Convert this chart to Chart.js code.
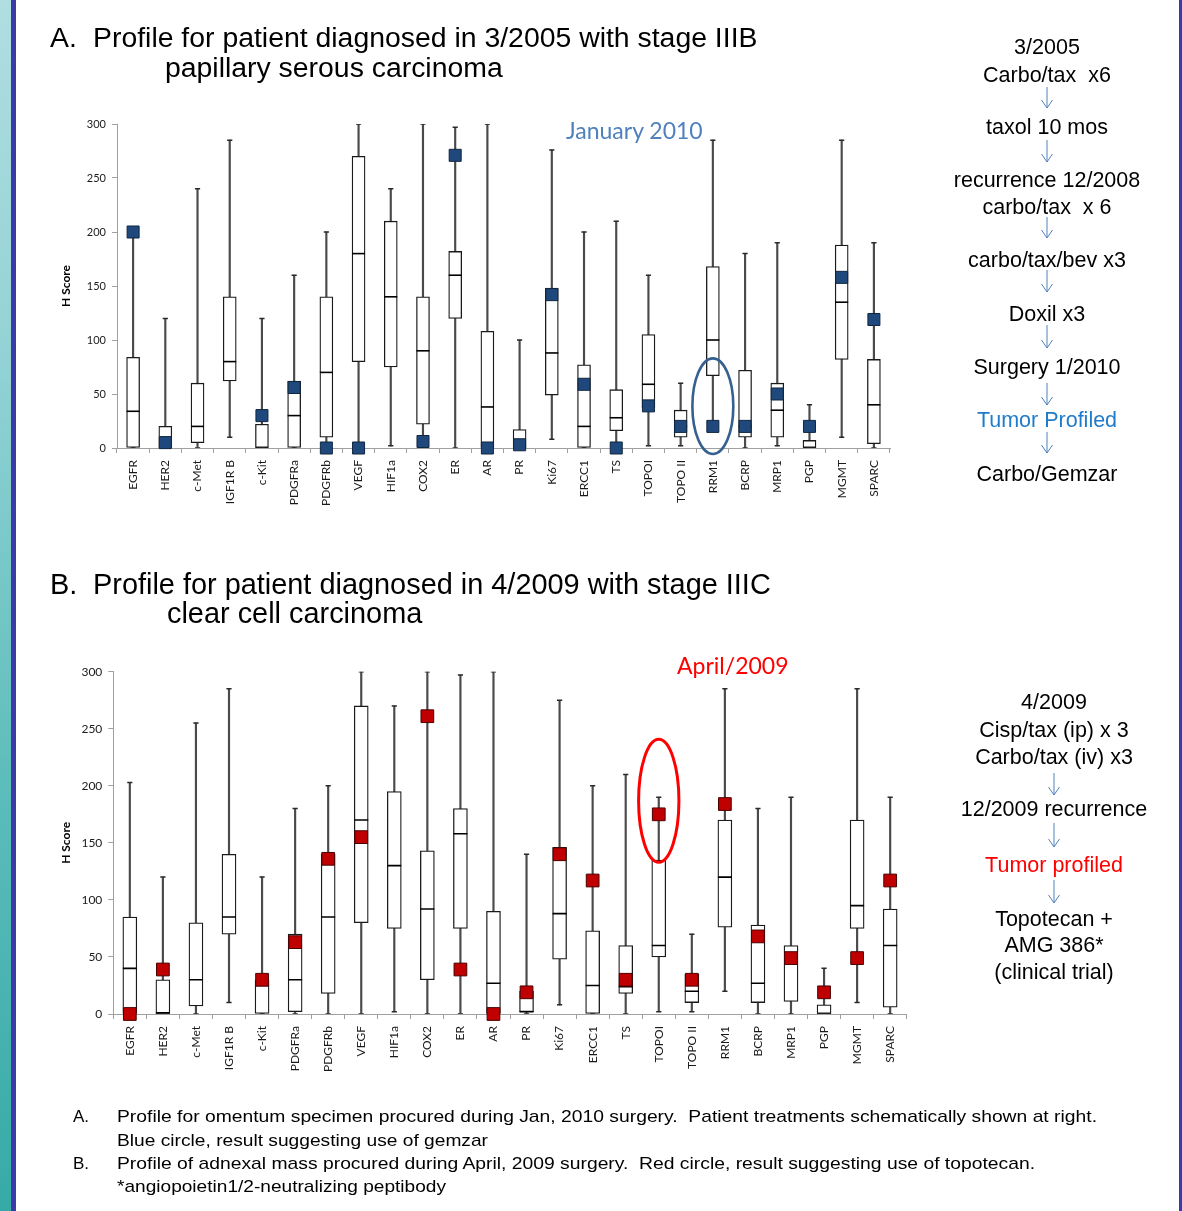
<!DOCTYPE html>
<html>
<head>
<meta charset="utf-8">
<title>Tumor biomarker profiles</title>
<script src="https://cdn.jsdelivr.net/npm/chart.js@4.4.1/dist/chart.umd.min.js"></script>
<style>
  html, body { margin: 0; padding: 0; background: #fff; }
  #page { position: relative; width: 1182px; height: 1211px; overflow: hidden; background: #fff;
          font-family: "Liberation Sans", Arial, sans-serif; color: #000; }
  .strip { position: absolute; left: 0; top: 0; width: 11px; height: 1211px;
           background: linear-gradient(#b0dee1 0%, #92d2d4 30%, #5cbdbb 65%, #36aaa7 100%); }
  .rule-l { position: absolute; left: 11px; top: 0; width: 5px; height: 1211px; background: #3b3ba8; }
  .rule-r { position: absolute; left: 1179px; top: 0; width: 3px; height: 1211px; background: #3b3ba8; }
  .t { position: absolute; white-space: pre; line-height: 1.2; }
  .fit { display: inline-block; transform-origin: 0 0; }
  canvas { position: absolute; }
  svg { position: absolute; left: 0; top: 0; pointer-events: none; }
</style>
</head>
<body>
<div id="page">
  <div class="strip"></div>
  <div class="rule-l"></div>
  <div class="rule-r"></div>
  <canvas id="panelA" width="900" height="410" style="left:0;top:110px"></canvas>
  <canvas id="panelB" width="920" height="420" style="left:0;top:655px"></canvas>
  <svg id="arrows" width="1182" height="1211"></svg>
</div>
<script>
// Marker names shared by both panels
const categories = ['EGFR', 'HER2', 'c-Met', 'IGF1R B', 'c-Kit', 'PDGFRa', 'PDGFRb', 'VEGF', 'HIF1a', 'COX2', 'ER',
  'AR', 'PR', 'Ki67', 'ERCC1', 'TS', 'TOPOI', 'TOPO II', 'RRM1', 'BCRP', 'MRP1', 'PGP', 'MGMT', 'SPARC'];
const yTicks = [0, 50, 100, 150, 200, 250, 300];

// Panel A: reference distribution (min, quartiles, max) and the patient's H score, January 2010
const aMin = [0, 0, 0, 10, 0, 0, 0, 0, 2, 0, 0, 0, 0, 8, 0, 0, 2, 2, 20, 0, 2, 0, 10, 0];
const aQ1 = [0, 0, 5, 62, 0, 0, 10, 80, 75, 22, 120, 0, 0, 49, 0, 16, 37, 10, 67, 10, 10, 0, 82, 4];
const aMedian = [34, 0, 20, 80, 0, 30, 70, 180, 140, 90, 160, 38, 1, 88, 20, 28, 59, 20, 100, 20, 35, 0, 135, 40];
const aQ3 = [84, 20, 60, 140, 22, 62, 140, 270, 210, 140, 182, 108, 17, 148, 77, 54, 105, 35, 168, 72, 60, 7, 188, 82];
const aMax = [200, 120, 240, 285, 120, 160, 200, 300, 240, 300, 297, 300, 100, 276, 200, 210, 160, 60, 285, 180, 190, 40, 285, 190];
const aPatient = [200, 5, null, null, 30, 56, 0, 0, null, 6, 271, 0, 3, 142, 59, 0, 39, 20, 20, 20, 50, 20, 158, 119];

// Panel B: same markers, patient profiled April 2009
const bMin = [0, 0, 0, 10, 0, 0, 0, 0, 2, 0, 0, 0, 0, 8, 0, 0, 2, 2, 20, 0, 0, 0, 10, 0];
const bQ1 = [0, 0, 7, 70, 0, 2, 18, 80, 75, 30, 75, 0, 2, 48, 0, 18, 50, 10, 76, 10, 11, 0, 75, 6];
const bMedian = [40, 1, 30, 85, 25, 30, 85, 170, 130, 92, 158, 27, 2, 88, 25, 24, 60, 20, 120, 27, 49, 0, 95, 60];
const bQ3 = [85, 30, 80, 140, 30, 70, 140, 270, 195, 143, 180, 90, 20, 146, 73, 60, 135, 35, 170, 78, 60, 8, 170, 92];
const bMax = [203, 120, 255, 285, 120, 180, 200, 300, 270, 300, 297, 300, 140, 275, 200, 210, 190, 70, 285, 180, 190, 40, 285, 190];
const bPatient = [0, 39, null, null, 30, 63, 136, 155, null, 261, 39, 0, 19, 140, 117, 30, 175, 30, 184, 68, 49, 19, 49, 117];

// Ellipse drawn around one category, spanning a value range
const ringPlugin = {
  id: 'ringMarker',
  afterDatasetsDraw(chart, args, o) {
    if (!o || !o.category) return;
    const xs = chart.scales.x, ys = chart.scales.y;
    const idx = chart.data.labels.indexOf(o.category);
    const cx = xs.getPixelForValue(idx);
    const y1 = ys.getPixelForValue(o.low), y2 = ys.getPixelForValue(o.high);
    const rx = o.span * (xs.width / chart.data.labels.length) / 2;
    const c = chart.ctx;
    c.save();
    c.beginPath();
    c.ellipse(cx, (y1 + y2) / 2, rx, Math.abs(y1 - y2) / 2, 0, 0, Math.PI * 2);
    c.lineWidth = o.lineWidth;
    c.strokeStyle = o.color;
    c.stroke();
    c.restore();
  }
};

function drawPanel(id, s) {
  const capStyle = { type: 'line', showLine: false, pointStyle: 'line', pointRadius: 2.6,
    pointBorderWidth: 1.5, pointBorderColor: '#2a2a2a', order: 3 };
  new Chart(document.getElementById(id), {
    data: {
      labels: categories,
      datasets: [
        { type: 'bar', data: s.min.map((v, i) => [v, s.max[i]]), backgroundColor: '#4a4a4a',
          borderWidth: 0, barThickness: 1.5, grouped: false, order: 6 },
        { type: 'bar', data: s.q1.map((v, i) => [v, s.q3[i]]), backgroundColor: '#ffffff',
          borderColor: '#1a1a1a', borderWidth: 1.3, borderSkipped: false, barThickness: s.boxWidth,
          grouped: false, order: 5 },
        { type: 'line', data: s.median, showLine: false, pointStyle: 'line', pointRadius: s.boxWidth / 2,
          pointBorderWidth: 1.6, pointBorderColor: '#000', order: 4 },
        Object.assign({ data: s.max }, capStyle),
        Object.assign({ data: s.min }, capStyle),
        { type: 'line', data: s.patient, showLine: false, pointStyle: 'rect', pointRadius: s.markerRadius,
          pointBackgroundColor: s.markerFill, pointBorderColor: s.markerEdge, pointBorderWidth: 1,
          clip: false, order: 1 }
      ]
    },
    options: {
      responsive: false,
      animation: false,
      events: [],
      layout: { padding: { left: 55, top: s.padTop, right: s.padRight, bottom: 0 } },
      plugins: {
        legend: { display: false },
        tooltip: { enabled: false },
        ringMarker: s.ring
      },
      scales: {
        x: {
          offset: true,
          ticks: { autoSkip: false, minRotation: 90, maxRotation: 90, padding: 7,
                   font: { family: 'Lato', size: 12 }, color: '#1a1a1a' },
          grid: { offset: true, drawOnChartArea: false, drawTicks: true, tickLength: 5, color: '#a0a0a0' },
          border: { display: true, color: '#a0a0a0', width: 1 },
          afterFit: sc => { sc.height = s.xAxisHeight; }
        },
        y: {
          min: 0, max: 300,
          afterBuildTicks: sc => { sc.ticks = yTicks.map(v => ({ value: v })); },
          ticks: { padding: 6, font: { family: 'Lato', size: s.yTickSize }, color: '#1a1a1a' },
          grid: { drawOnChartArea: false, drawTicks: true, tickLength: 5, color: '#a0a0a0' },
          border: { display: true, color: '#a0a0a0', width: 1 },
          title: { display: true, text: 'H Score', color: '#000', padding: { top: 4, bottom: 4 },
                   font: { family: 'Lato', size: 12, weight: 'bold' } },
          afterFit: sc => { sc.width = s.yAxisWidth; }
        }
      }
    },
    plugins: [ringPlugin]
  });
}

drawPanel('panelA', {
  min: aMin, q1: aQ1, median: aMedian, q3: aQ3, max: aMax, patient: aPatient,
  boxWidth: 13, markerRadius: 8.5, markerFill: '#1f497d', markerEdge: '#10263f',
  padTop: 14, padRight: 10, yAxisWidth: 62, xAxisHeight: 72, yTickSize: 11,
  ring: { category: 'RRM1', low: -5.5, high: 83, span: 1.27, color: '#35608f', lineWidth: 2.6 }
});

drawPanel('panelB', {
  min: bMin, q1: bQ1, median: bMedian, q3: bQ3, max: bMax, patient: bPatient,
  boxWidth: 14, markerRadius: 9, markerFill: '#c00000', markerEdge: '#4a0000',
  padTop: 16.7, padRight: 13.3, yAxisWidth: 58.3, xAxisHeight: 61, yTickSize: 12,
  ring: { category: 'TOPOI', low: 133, high: 240.7, span: 1.22, color: '#ff0000', lineWidth: 3 }
});

// ---- text around the charts ----
const page = document.getElementById('page');
const ARIAL_ASC = 0.9465, LATO_ASC = 0.987;

function text(str, x, baseline, size, opts = {}) {
  const d = document.createElement('div');
  d.className = 't';
  const lato = opts.lato;
  d.style.fontFamily = lato ? 'Lato, sans-serif' : '"Liberation Sans", Arial, sans-serif';
  d.style.fontSize = size + 'px';
  d.style.color = opts.color || '#000';
  d.style.top = (baseline - (lato ? LATO_ASC : ARIAL_ASC) * size) + 'px';
  const span = document.createElement('span');
  span.className = 'fit';
  span.textContent = str;
  d.appendChild(span);
  page.appendChild(d);
  if (opts.center) {
    const w = span.getBoundingClientRect().width;
    d.style.left = (x - w / 2) + 'px';
  } else {
    d.style.left = x + 'px';
  }
  if (opts.fitWidth) {
    const w = span.getBoundingClientRect().width;
    span.style.transform = 'scaleX(' + (opts.fitWidth / w) + ')';
  }
  return d;
}

// Panel headings
text('A.', 50, 47, 28.4);
text('Profile for patient diagnosed in 3/2005 with stage IIIB', 93, 47, 28.4);
text('papillary serous carcinoma', 165, 77, 28.4);
text('B.', 50, 594, 28.9);
text('Profile for patient diagnosed in 4/2009 with stage IIIC', 93, 594, 28.9);
text('clear cell carcinoma', 167, 623, 28.9);

// Sample dates inside the plots
text('January 2010', 566, 139.5, 23, { lato: true, color: '#4f81bd' });
text('April/2009', 677, 675, 23, { lato: true, color: '#ff0000' });

// Treatment timelines
const timelineA = [
  ['3/2005', 55], ['Carbo/tax  x6', 83], ['taxol 10 mos', 135], ['recurrence 12/2008', 188],
  ['carbo/tax  x 6', 215], ['carbo/tax/bev x3', 268], ['Doxil x3', 322], ['Surgery 1/2010', 375],
  ['Tumor Profiled', 428, '#1f7bcb'], ['Carbo/Gemzar', 482]
];
timelineA.forEach(([s, y, c]) => text(s, 1047, y, 21.5, { center: true, color: c }));
const timelineB = [
  ['4/2009', 710], ['Cisp/tax (ip) x 3', 738], ['Carbo/tax (iv) x3', 765], ['12/2009 recurrence', 817],
  ['Tumor profiled', 873, '#ff0000'], ['Topotecan +', 927], ['AMG 386*', 953], ['(clinical trial)', 980]
];
timelineB.forEach(([s, y, c]) => text(s, 1054, y, 21.5, { center: true, color: c }));

const arrowsA = [[87, 108], [140, 162], [217, 238], [270, 292], [325, 348], [383, 405], [432, 453]];
const arrowsB = [[773, 795], [823, 847], [880, 903]];
const svg = document.getElementById('arrows');
function arrow(x, y1, y2) {
  const ns = 'http://www.w3.org/2000/svg';
  const p = document.createElementNS(ns, 'path');
  p.setAttribute('d', `M${x} ${y1} L${x} ${y2} M${x - 5.5} ${y2 - 8} L${x} ${y2} L${x + 5.5} ${y2 - 8}`);
  p.setAttribute('stroke', '#4f81bd');
  p.setAttribute('stroke-width', '1');
  p.setAttribute('fill', 'none');
  svg.appendChild(p);
}
arrowsA.forEach(([a, b]) => arrow(1047, a, b));
arrowsB.forEach(([a, b]) => arrow(1054, a, b));

// Footnotes
text('A.', 73, 1123, 17);
text('Profile for omentum specimen procured during Jan, 2010 surgery.  Patient treatments schematically shown at right.', 117, 1123, 17, { fitWidth: 980 });
text('Blue circle, result suggesting use of gemzar', 117, 1147, 17, { fitWidth: 371 });
text('B.', 73, 1170, 17);
text('Profile of adnexal mass procured during April, 2009 surgery.  Red circle, result suggesting use of topotecan.', 117, 1170, 17, { fitWidth: 918 });
text('*angiopoietin1/2-neutralizing peptibody', 117, 1193, 17, { fitWidth: 329 });
</script>
</body>
</html>
